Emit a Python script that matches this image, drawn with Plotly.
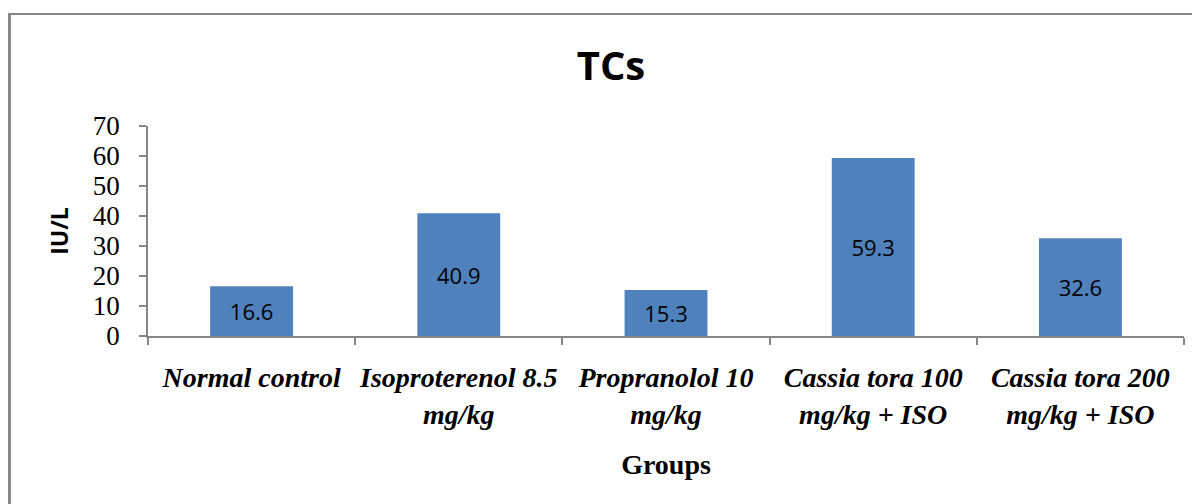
import plotly.graph_objects as go

categories = [
    "Normal control",
    "Isoproterenol 8.5<br>mg/kg",
    "Propranolol 10<br>mg/kg",
    "Cassia tora 100<br>mg/kg + ISO",
    "Cassia tora 200<br>mg/kg + ISO",
]
values = [16.6, 40.9, 15.3, 59.3, 32.6]
y_ticks = [0, 10, 20, 30, 40, 50, 60, 70]

title_text = "TCs"
x_title = "Groups"
y_title = "IU/L"

GRID = "#868686"
BAR = "#4F81BD"

# page body has an 8px margin; figure sized so it fills the 1200x504 window
W, H = 1192, 496
L, R, T, B = 140, 16, 118, 168
PW = W - L - R
PH = H - T - B

fig = go.Figure(
    go.Bar(
        x=categories,
        y=values,
        marker=dict(color=BAR, line=dict(width=0)),
        text=[f"{v:.1f}" for v in values],
        textposition="inside",
        insidetextanchor="middle",
        textangle=0,
        textfont=dict(family="Open Sans", size=22, color="black"),
        hoverinfo="skip",
    )
)

fig.update_layout(
    width=W,
    height=H,
    margin=dict(l=L, r=R, t=T, b=B, pad=0),
    paper_bgcolor="white",
    plot_bgcolor="white",
    bargap=0.6,
    showlegend=False,
    title=dict(
        text=f"<b>{title_text}</b>",
        font=dict(family="Open Sans", size=40, color="black"),
        x=(611 - 8) / W,
        xref="container",
        xanchor="center",
        y=1 - (66 - 8) / H,
        yref="container",
        yanchor="middle",
    ),
)

fig.update_xaxes(
    showline=True,
    linecolor=GRID,
    linewidth=1.5,
    ticks="outside",
    tickson="boundaries",
    ticklen=7,
    tickcolor=GRID,
    tickwidth=1.5,
    showgrid=False,
    tickangle=0,
    tickfont=dict(family="Liberation Serif", size=28, color="black",
                  weight="bold", style="italic"),
    ticklabelstandoff=16,
    title=dict(
        text=f"<b>{x_title}</b>",
        font=dict(family="Liberation Serif", size=28, color="black"),
        standoff=26,
    ),
)

fig.update_yaxes(
    range=[0, 70],
    tickvals=y_ticks,
    showline=True,
    linecolor=GRID,
    linewidth=1.5,
    ticks="outside",
    ticklen=7,
    tickcolor=GRID,
    tickwidth=1.5,
    showgrid=False,
    zeroline=False,
    tickfont=dict(family="Liberation Serif", size=27, color="black"),
    ticklabelstandoff=14,
    title=dict(
        text=f"<b>{y_title}</b>",
        font=dict(family="Open Sans", size=23, color="black"),
        standoff=18,
    ),
)

# chart-area frame (left and top edges visible in the reference)
fig.add_shape(type="line", xref="paper", yref="paper",
              x0=(1.5 - L) / PW, x1=(1.5 - L) / PW,
              y0=(PH + T - 5) / PH, y1=(PH + T - 520) / PH,
              line=dict(color="#878787", width=3))
fig.add_shape(type="line", xref="paper", yref="paper",
              x0=(0 - L) / PW, x1=(1210 - L) / PW,
              y0=(PH + T - 6) / PH, y1=(PH + T - 6) / PH,
              line=dict(color="#878787", width=2))

fig.write_html("out.html")
